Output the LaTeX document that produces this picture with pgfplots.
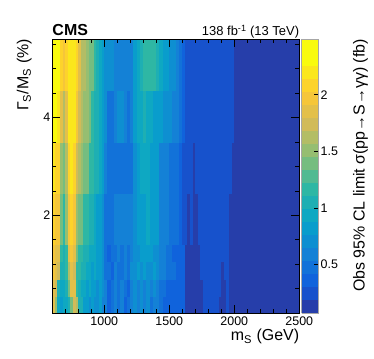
\documentclass[border=0pt]{standalone}
\usepackage{pgfplots}
\pgfplotsset{compat=1.18}
\usepackage{fontspec}
\setmainfont{Liberation Sans}
\begin{document}
\begin{tikzpicture}
\pgfplotsset{
  colormap={bird}{
    rgb=(0.1486,0.2438,0.6649)
    rgb=(0.0890,0.3212,0.8006)
    rgb=(0.0630,0.3887,0.8624)
    rgb=(0.0705,0.4464,0.8505)
    rgb=(0.0780,0.5041,0.8385)
    rgb=(0.0561,0.5592,0.8197)
    rgb=(0.0342,0.6143,0.8008)
    rgb=(0.0546,0.6571,0.7616)
    rgb=(0.1174,0.6874,0.7021)
    rgb=(0.1802,0.7178,0.6425)
    rgb=(0.3202,0.7304,0.5720)
    rgb=(0.4601,0.7429,0.5015)
    rgb=(0.5878,0.7459,0.4429)
    rgb=(0.7032,0.7394,0.3964)
    rgb=(0.8186,0.7328,0.3499)
    rgb=(0.8894,0.7542,0.2887)
    rgb=(0.9602,0.7755,0.2274)
    rgb=(0.9918,0.8256,0.1682)
    rgb=(0.9841,0.9044,0.1111)
    rgb=(0.9764,0.9832,0.0539)
    rgb=(0.9764,0.9832,0.0539)
  }
}
\begin{axis}[
  at={(0,0)}, anchor=south west,
  scale only axis, width=247bp, height=273.7bp,
  xmin=600, xmax=2500, ymin=0, ymax=5.6,
  xtick={1000,1500,2000,2500},
  minor xtick={700,800,...,2400},
  ytick={2,4},
  minor ytick={0.5,1,...,5.5},
  tick align=inside,
  major tick length=8bp, minor tick length=4bp,
  every tick/.style={black, line width=0.6pt},
  axis line style={line width=0.8pt},
  tick label style={font=\fontsize{12.5}{14}\selectfont},
  yticklabel style={xshift=1.5bp},
  /pgf/number format/assume math mode=true,
  /pgf/number format/1000 sep={},
  colormap name=bird,
  colormap access=piecewise constant,
  point meta min=0.07, point meta max=2.49,
  colorbar,
  colorbar shift/.style={xshift=2.4bp},
  colorbar style={
    at={(parent axis.south east)}, anchor=south west,
    scale only axis, width=17bp, height=273.7bp,
    ytick={0.5,1,1.5,2},
    ytick pos=right, yticklabel pos=right,
    tick align=inside, major tick length=5bp,
    every tick/.style={black, line width=0.6pt},
    axis line style={gray!70, line width=0.5pt},
    tick label style={font=\fontsize{12.5}{14}\selectfont},
    yticklabel style={xshift=-1.5bp},
    /pgf/number format/assume math mode=true,
  },
  axis on top,
]
\addplot[surf, shader=flat corner, mesh/cols=66, point meta=explicit] coordinates {
(600,0)[1.82] (620,0)[1.46] (640,0)[0.98] (660,0)[0.86] (680,0)[0.98] (700,0)[0.98] (720,0)[1.10] (740,0)[1.34] (760,0)[1.70] (780,0)[1.58] (800,0)[1.10] (820,0)[1.10] (840,0)[0.86] (860,0)[0.86] (880,0)[0.73] (900,0)[0.86] (920,0)[0.73] (940,0)[0.73] (960,0)[0.86] (980,0)[0.61] (1000,0)[0.61] (1025,0)[0.37] (1050,0)[0.49] (1075,0)[0.61] (1100,0)[0.49] (1125,0)[0.61] (1150,0)[0.37] (1175,0)[0.49] (1200,0)[0.61] (1225,0)[0.73] (1250,0)[0.61] (1275,0)[0.73] (1300,0)[0.61] (1325,0)[0.73] (1350,0)[0.49] (1375,0)[0.61] (1400,0)[0.61] (1425,0)[0.49] (1450,0)[0.37] (1475,0)[0.37] (1500,0)[0.37] (1525,0)[0.37] (1550,0)[0.37] (1575,0)[0.37] (1600,0)[0.37] (1620,0)[0.13] (1640,0)[0.13] (1660,0)[0.13] (1680,0)[0.13] (1700,0)[0.13] (1720,0)[0.13] (1740,0)[0.13] (1760,0)[0.25] (1780,0)[0.25] (1800,0)[0.25] (1820,0)[0.25] (1840,0)[0.25] (1860,0)[0.25] (1880,0)[0.13] (1900,0)[0.13] (1920,0)[0.13] (1940,0)[0.25] (1960,0)[0.13] (1980,0)[0.13] (2000,0)[0.13] (2500,0)[0.13]
(600,0.35)[1.82] (620,0.35)[1.70] (640,0.35)[1.10] (660,0.35)[0.98] (680,0.35)[0.98] (700,0.35)[1.10] (720,0.35)[1.34] (740,0.35)[1.82] (760,0.35)[1.82] (780,0.35)[1.22] (800,0.35)[1.10] (820,0.35)[0.98] (840,0.35)[0.98] (860,0.35)[0.86] (880,0.35)[0.98] (900,0.35)[0.86] (920,0.35)[0.86] (940,0.35)[0.73] (960,0.35)[0.86] (980,0.35)[0.73] (1000,0.35)[0.61] (1025,0.35)[0.37] (1050,0.35)[0.49] (1075,0.35)[0.61] (1100,0.35)[0.49] (1125,0.35)[0.61] (1150,0.35)[0.49] (1175,0.35)[0.37] (1200,0.35)[0.61] (1225,0.35)[0.73] (1250,0.35)[0.61] (1275,0.35)[0.73] (1300,0.35)[0.61] (1325,0.35)[0.73] (1350,0.35)[0.61] (1375,0.35)[0.73] (1400,0.35)[0.61] (1425,0.35)[0.49] (1450,0.35)[0.49] (1475,0.35)[0.37] (1500,0.35)[0.37] (1525,0.35)[0.37] (1550,0.35)[0.37] (1575,0.35)[0.37] (1600,0.35)[0.37] (1620,0.35)[0.13] (1640,0.35)[0.13] (1660,0.35)[0.13] (1680,0.35)[0.13] (1700,0.35)[0.13] (1720,0.35)[0.13] (1740,0.35)[0.13] (1760,0.35)[0.25] (1780,0.35)[0.25] (1800,0.35)[0.25] (1820,0.35)[0.25] (1840,0.35)[0.25] (1860,0.35)[0.25] (1880,0.35)[0.25] (1900,0.35)[0.13] (1920,0.35)[0.13] (1940,0.35)[0.25] (1960,0.35)[0.13] (1980,0.35)[0.13] (2000,0.35)[0.13] (2500,0.35)[0.13]
(600,0.7)[1.95] (620,0.7)[1.82] (640,0.7)[1.70] (660,0.7)[1.10] (680,0.7)[1.10] (700,0.7)[1.22] (720,0.7)[1.58] (740,0.7)[1.82] (760,0.7)[1.70] (780,0.7)[1.22] (800,0.7)[1.22] (820,0.7)[1.10] (840,0.7)[1.10] (860,0.7)[0.98] (880,0.7)[0.98] (900,0.7)[0.86] (920,0.7)[0.98] (940,0.7)[0.86] (960,0.7)[0.86] (980,0.7)[0.73] (1000,0.7)[0.49] (1025,0.7)[0.49] (1050,0.7)[0.37] (1075,0.7)[0.61] (1100,0.7)[0.49] (1125,0.7)[0.49] (1150,0.7)[0.61] (1175,0.7)[0.49] (1200,0.7)[0.73] (1225,0.7)[0.73] (1250,0.7)[0.86] (1275,0.7)[0.73] (1300,0.7)[0.86] (1325,0.7)[0.73] (1350,0.7)[0.73] (1375,0.7)[0.86] (1400,0.7)[0.73] (1425,0.7)[0.61] (1450,0.7)[0.61] (1475,0.7)[0.49] (1500,0.7)[0.49] (1525,0.7)[0.49] (1550,0.7)[0.37] (1575,0.7)[0.37] (1600,0.7)[0.37] (1620,0.7)[0.13] (1640,0.7)[0.13] (1660,0.7)[0.13] (1680,0.7)[0.13] (1700,0.7)[0.13] (1720,0.7)[0.13] (1740,0.7)[0.25] (1760,0.7)[0.25] (1780,0.7)[0.25] (1800,0.7)[0.25] (1820,0.7)[0.25] (1840,0.7)[0.25] (1860,0.7)[0.25] (1880,0.7)[0.25] (1900,0.7)[0.13] (1920,0.7)[0.25] (1940,0.7)[0.25] (1960,0.7)[0.13] (1980,0.7)[0.13] (2000,0.7)[0.13] (2500,0.7)[0.13]
(600,1.05)[1.95] (620,1.05)[1.82] (640,1.05)[1.82] (660,1.05)[1.22] (680,1.05)[1.10] (700,1.05)[1.22] (720,1.05)[1.82] (740,1.05)[1.95] (760,1.05)[1.82] (780,1.05)[1.34] (800,1.05)[1.22] (820,1.05)[1.22] (840,1.05)[1.10] (860,1.05)[1.10] (880,1.05)[0.98] (900,1.05)[0.98] (920,1.05)[0.98] (940,1.05)[0.86] (960,1.05)[0.86] (980,1.05)[0.73] (1000,1.05)[0.49] (1025,1.05)[0.37] (1050,1.05)[0.49] (1075,1.05)[0.49] (1100,1.05)[0.61] (1125,1.05)[0.49] (1150,1.05)[0.61] (1175,1.05)[0.49] (1200,1.05)[0.61] (1225,1.05)[0.73] (1250,1.05)[0.73] (1275,1.05)[0.86] (1300,1.05)[0.86] (1325,1.05)[0.86] (1350,1.05)[0.86] (1375,1.05)[0.73] (1400,1.05)[0.73] (1425,1.05)[0.61] (1450,1.05)[0.61] (1475,1.05)[0.49] (1500,1.05)[0.49] (1525,1.05)[0.37] (1550,1.05)[0.37] (1575,1.05)[0.37] (1600,1.05)[0.37] (1620,1.05)[0.13] (1640,1.05)[0.13] (1660,1.05)[0.13] (1680,1.05)[0.13] (1700,1.05)[0.13] (1720,1.05)[0.13] (1740,1.05)[0.25] (1760,1.05)[0.25] (1780,1.05)[0.25] (1800,1.05)[0.25] (1820,1.05)[0.25] (1840,1.05)[0.25] (1860,1.05)[0.25] (1880,1.05)[0.25] (1900,1.05)[0.25] (1920,1.05)[0.25] (1940,1.05)[0.25] (1960,1.05)[0.13] (1980,1.05)[0.13] (2000,1.05)[0.13] (2500,1.05)[0.13]
(600,1.4)[2.07] (620,1.4)[1.95] (640,1.4)[1.95] (660,1.4)[1.34] (680,1.4)[1.22] (700,1.4)[1.46] (720,1.4)[1.95] (740,1.4)[2.07] (760,1.4)[1.95] (780,1.4)[1.46] (800,1.4)[1.34] (820,1.4)[1.34] (840,1.4)[1.22] (860,1.4)[1.22] (880,1.4)[1.10] (900,1.4)[1.10] (920,1.4)[0.98] (940,1.4)[0.86] (960,1.4)[0.86] (980,1.4)[0.73] (1000,1.4)[0.49] (1025,1.4)[0.49] (1050,1.4)[0.49] (1075,1.4)[0.61] (1100,1.4)[0.61] (1125,1.4)[0.61] (1150,1.4)[0.61] (1175,1.4)[0.61] (1200,1.4)[0.61] (1225,1.4)[0.73] (1250,1.4)[0.86] (1275,1.4)[0.86] (1300,1.4)[0.86] (1325,1.4)[0.98] (1350,1.4)[0.86] (1375,1.4)[0.86] (1400,1.4)[0.86] (1425,1.4)[0.61] (1450,1.4)[0.61] (1475,1.4)[0.61] (1500,1.4)[0.49] (1525,1.4)[0.49] (1550,1.4)[0.49] (1575,1.4)[0.37] (1600,1.4)[0.25] (1620,1.4)[0.25] (1640,1.4)[0.13] (1660,1.4)[0.25] (1680,1.4)[0.13] (1700,1.4)[0.13] (1720,1.4)[0.25] (1740,1.4)[0.25] (1760,1.4)[0.25] (1780,1.4)[0.25] (1800,1.4)[0.25] (1820,1.4)[0.25] (1840,1.4)[0.25] (1860,1.4)[0.25] (1880,1.4)[0.25] (1900,1.4)[0.25] (1920,1.4)[0.25] (1940,1.4)[0.25] (1960,1.4)[0.13] (1980,1.4)[0.13] (2000,1.4)[0.13] (2500,1.4)[0.13]
(600,2.45)[2.19] (620,2.45)[2.07] (640,2.45)[2.07] (660,2.45)[1.46] (680,2.45)[1.34] (700,2.45)[1.58] (720,2.45)[2.07] (740,2.45)[2.19] (760,2.45)[2.07] (780,2.45)[1.70] (800,2.45)[1.58] (820,2.45)[1.46] (840,2.45)[1.34] (860,2.45)[1.34] (880,2.45)[1.22] (900,2.45)[1.22] (920,2.45)[1.10] (940,2.45)[1.10] (960,2.45)[0.98] (980,2.45)[0.86] (1000,2.45)[0.61] (1025,2.45)[0.49] (1050,2.45)[0.49] (1075,2.45)[0.49] (1100,2.45)[0.49] (1125,2.45)[0.49] (1150,2.45)[0.49] (1175,2.45)[0.49] (1200,2.45)[0.49] (1225,2.45)[0.73] (1250,2.45)[0.86] (1275,2.45)[0.98] (1300,2.45)[0.98] (1325,2.45)[0.98] (1350,2.45)[0.86] (1375,2.45)[0.86] (1400,2.45)[0.86] (1425,2.45)[0.61] (1450,2.45)[0.61] (1475,2.45)[0.61] (1500,2.45)[0.49] (1525,2.45)[0.49] (1550,2.45)[0.49] (1575,2.45)[0.37] (1600,2.45)[0.25] (1620,2.45)[0.25] (1640,2.45)[0.25] (1660,2.45)[0.25] (1680,2.45)[0.13] (1700,2.45)[0.25] (1720,2.45)[0.25] (1740,2.45)[0.25] (1760,2.45)[0.25] (1780,2.45)[0.25] (1800,2.45)[0.25] (1820,2.45)[0.25] (1840,2.45)[0.25] (1860,2.45)[0.25] (1880,2.45)[0.25] (1900,2.45)[0.25] (1920,2.45)[0.25] (1940,2.45)[0.25] (1960,2.45)[0.25] (1980,2.45)[0.13] (2000,2.45)[0.13] (2500,2.45)[0.13]
(600,3.5)[2.31] (620,3.5)[2.31] (640,3.5)[2.19] (660,3.5)[1.82] (680,3.5)[1.58] (700,3.5)[1.82] (720,3.5)[2.19] (740,3.5)[2.19] (760,3.5)[2.19] (780,3.5)[1.95] (800,3.5)[1.70] (820,3.5)[1.58] (840,3.5)[1.46] (860,3.5)[1.46] (880,3.5)[1.34] (900,3.5)[1.22] (920,3.5)[1.10] (940,3.5)[1.10] (960,3.5)[0.98] (980,3.5)[0.86] (1000,3.5)[0.73] (1025,3.5)[0.49] (1050,3.5)[0.49] (1075,3.5)[0.61] (1100,3.5)[0.73] (1125,3.5)[0.73] (1150,3.5)[0.61] (1175,3.5)[0.49] (1200,3.5)[0.61] (1225,3.5)[0.86] (1250,3.5)[0.98] (1275,3.5)[0.98] (1300,3.5)[1.10] (1325,3.5)[0.98] (1350,3.5)[0.98] (1375,3.5)[0.86] (1400,3.5)[0.86] (1425,3.5)[0.86] (1450,3.5)[0.73] (1475,3.5)[0.73] (1500,3.5)[0.73] (1525,3.5)[0.61] (1550,3.5)[0.61] (1575,3.5)[0.49] (1600,3.5)[0.37] (1620,3.5)[0.25] (1640,3.5)[0.25] (1660,3.5)[0.25] (1680,3.5)[0.25] (1700,3.5)[0.25] (1720,3.5)[0.25] (1740,3.5)[0.25] (1760,3.5)[0.25] (1780,3.5)[0.25] (1800,3.5)[0.25] (1820,3.5)[0.25] (1840,3.5)[0.25] (1860,3.5)[0.25] (1880,3.5)[0.25] (1900,3.5)[0.25] (1920,3.5)[0.25] (1940,3.5)[0.25] (1960,3.5)[0.25] (1980,3.5)[0.25] (2000,3.5)[0.13] (2500,3.5)[0.13]
(600,4.55)[2.43] (620,4.55)[2.43] (640,4.55)[2.43] (660,4.55)[2.07] (680,4.55)[1.95] (700,4.55)[2.07] (720,4.55)[2.19] (740,4.55)[2.19] (760,4.55)[2.19] (780,4.55)[2.07] (800,4.55)[1.82] (820,4.55)[1.58] (840,4.55)[1.58] (860,4.55)[1.46] (880,4.55)[1.34] (900,4.55)[1.34] (920,4.55)[1.22] (940,4.55)[1.10] (960,4.55)[0.98] (980,4.55)[0.86] (1000,4.55)[0.73] (1025,4.55)[0.73] (1050,4.55)[0.73] (1075,4.55)[0.61] (1100,4.55)[0.61] (1125,4.55)[0.61] (1150,4.55)[0.61] (1175,4.55)[0.61] (1200,4.55)[0.61] (1225,4.55)[0.86] (1250,4.55)[0.98] (1275,4.55)[1.10] (1300,4.55)[1.22] (1325,4.55)[1.22] (1350,4.55)[1.22] (1375,4.55)[1.22] (1400,4.55)[1.10] (1425,4.55)[0.98] (1450,4.55)[0.86] (1475,4.55)[0.86] (1500,4.55)[0.73] (1525,4.55)[0.73] (1550,4.55)[0.61] (1575,4.55)[0.49] (1600,4.55)[0.37] (1620,4.55)[0.25] (1640,4.55)[0.25] (1660,4.55)[0.25] (1680,4.55)[0.25] (1700,4.55)[0.25] (1720,4.55)[0.25] (1740,4.55)[0.25] (1760,4.55)[0.25] (1780,4.55)[0.25] (1800,4.55)[0.25] (1820,4.55)[0.25] (1840,4.55)[0.25] (1860,4.55)[0.25] (1880,4.55)[0.25] (1900,4.55)[0.25] (1920,4.55)[0.25] (1940,4.55)[0.25] (1960,4.55)[0.25] (1980,4.55)[0.25] (2000,4.55)[0.13] (2500,4.55)[0.13]
(600,5.6)[0.13] (620,5.6)[0.13] (640,5.6)[0.13] (660,5.6)[0.13] (680,5.6)[0.13] (700,5.6)[0.13] (720,5.6)[0.13] (740,5.6)[0.13] (760,5.6)[0.13] (780,5.6)[0.13] (800,5.6)[0.13] (820,5.6)[0.13] (840,5.6)[0.13] (860,5.6)[0.13] (880,5.6)[0.13] (900,5.6)[0.13] (920,5.6)[0.13] (940,5.6)[0.13] (960,5.6)[0.13] (980,5.6)[0.13] (1000,5.6)[0.13] (1025,5.6)[0.13] (1050,5.6)[0.13] (1075,5.6)[0.13] (1100,5.6)[0.13] (1125,5.6)[0.13] (1150,5.6)[0.13] (1175,5.6)[0.13] (1200,5.6)[0.13] (1225,5.6)[0.13] (1250,5.6)[0.13] (1275,5.6)[0.13] (1300,5.6)[0.13] (1325,5.6)[0.13] (1350,5.6)[0.13] (1375,5.6)[0.13] (1400,5.6)[0.13] (1425,5.6)[0.13] (1450,5.6)[0.13] (1475,5.6)[0.13] (1500,5.6)[0.13] (1525,5.6)[0.13] (1550,5.6)[0.13] (1575,5.6)[0.13] (1600,5.6)[0.13] (1620,5.6)[0.13] (1640,5.6)[0.13] (1660,5.6)[0.13] (1680,5.6)[0.13] (1700,5.6)[0.13] (1720,5.6)[0.13] (1740,5.6)[0.13] (1760,5.6)[0.13] (1780,5.6)[0.13] (1800,5.6)[0.13] (1820,5.6)[0.13] (1840,5.6)[0.13] (1860,5.6)[0.13] (1880,5.6)[0.13] (1900,5.6)[0.13] (1920,5.6)[0.13] (1940,5.6)[0.13] (1960,5.6)[0.13] (1980,5.6)[0.13] (2000,5.6)[0.13] (2500,5.6)[0.13]
};
\end{axis}
\node[anchor=base west, inner sep=0pt, font=\bfseries\fontsize{16}{18}\selectfont] at (0bp,277bp) {CMS};
\node[anchor=base east, inner sep=0pt, font=\fontsize{13}{15}\selectfont] at (247bp,277bp) {138 fb\textsuperscript{-1} (13 TeV)};
\node[anchor=base east, inner sep=0pt, font=\fontsize{16}{18}\selectfont] at (247bp,-27.5bp) {m\textsubscript{S} (GeV)};
\node[rotate=90, anchor=base east, inner sep=0pt, font=\fontsize{16}{18}\selectfont] at (-24bp,274bp) {Γ\textsubscript{S}/M\textsubscript{S} (\%)};
\node[rotate=90, anchor=base east, inner sep=0pt, font=\fontsize{16}{18}\selectfont] at (312.3bp,274bp) {Obs 95\% CL limit σ(pp→S→γγ) (fb)};
\pgfresetboundingbox
\path[use as bounding box] (-52.3bp,-46bp) rectangle (321.7bp,313bp);
\end{tikzpicture}
\end{document}
